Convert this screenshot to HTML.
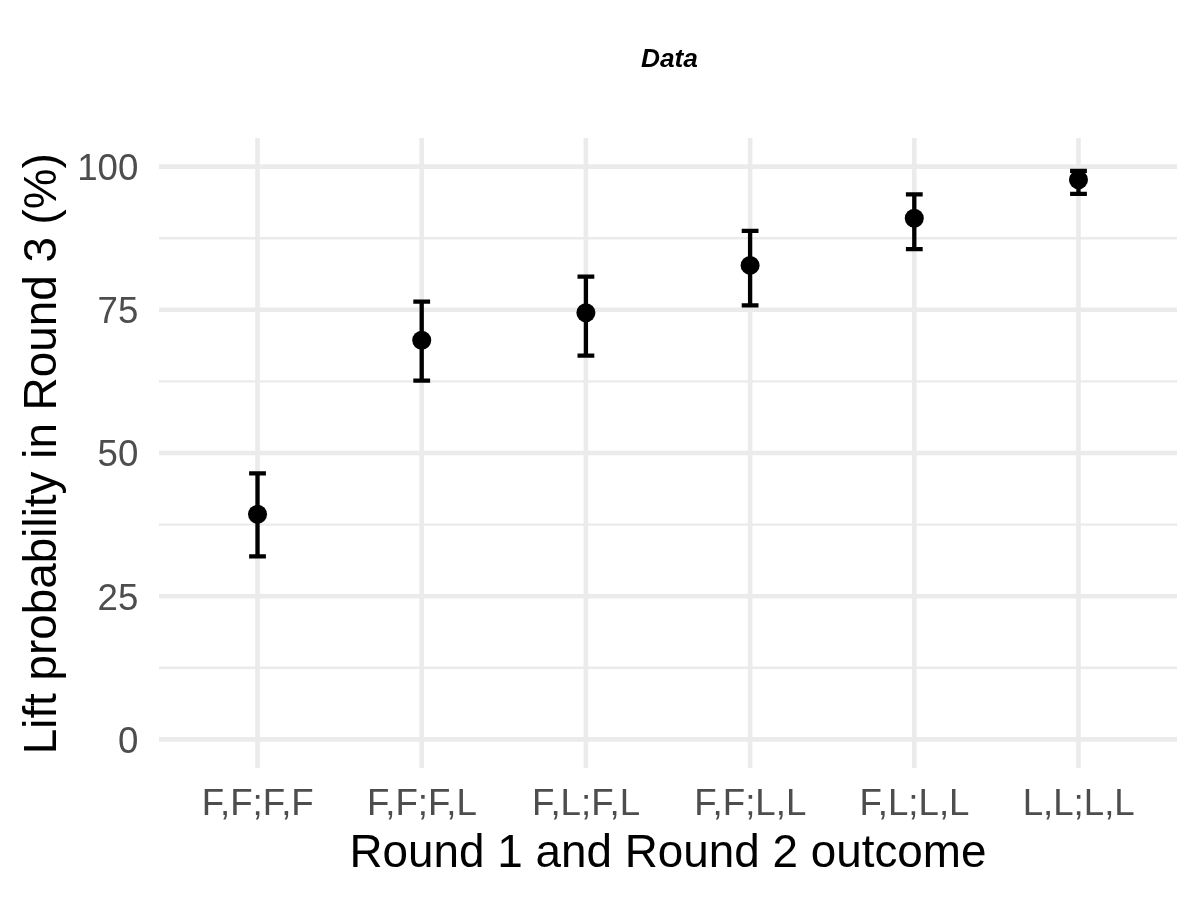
<!DOCTYPE html>
<html lang="en"><head><meta charset="utf-8"><title>Data</title>
<style>html,body{margin:0;padding:0;background:#fff;}body{width:1200px;height:900px;overflow:hidden;}svg{display:block;}text{font-family:"Liberation Sans",Arial,Helvetica,sans-serif;}</style>
</head><body>
<svg width="1200" height="900" viewBox="0 0 1200 900">
<rect x="0" y="0" width="1200" height="900" fill="#ffffff"/>
<g stroke="#EBEBEB" stroke-width="2.4" fill="none">
<line x1="159.0" x2="1177.0" y1="667.77" y2="667.77"/>
<line x1="159.0" x2="1177.0" y1="524.59" y2="524.59"/>
<line x1="159.0" x2="1177.0" y1="381.41" y2="381.41"/>
<line x1="159.0" x2="1177.0" y1="238.23" y2="238.23"/>
</g>
<g stroke="#EBEBEB" stroke-width="4.6" fill="none">
<line x1="159.0" x2="1177.0" y1="739.36" y2="739.36"/>
<line x1="159.0" x2="1177.0" y1="596.18" y2="596.18"/>
<line x1="159.0" x2="1177.0" y1="453.00" y2="453.00"/>
<line x1="159.0" x2="1177.0" y1="309.82" y2="309.82"/>
<line x1="159.0" x2="1177.0" y1="166.64" y2="166.64"/>
<line x1="257.52" x2="257.52" y1="138.0" y2="768.0"/>
<line x1="421.71" x2="421.71" y1="138.0" y2="768.0"/>
<line x1="585.90" x2="585.90" y1="138.0" y2="768.0"/>
<line x1="750.10" x2="750.10" y1="138.0" y2="768.0"/>
<line x1="914.29" x2="914.29" y1="138.0" y2="768.0"/>
<line x1="1078.48" x2="1078.48" y1="138.0" y2="768.0"/>
</g>
<g stroke="#000" stroke-width="4.3" fill="none" stroke-linecap="butt">
<path d="M249.12 473.30H265.92M257.52 473.30V556.30M249.12 556.30H265.92"/>
<path d="M413.31 301.70H430.11M421.71 301.70V380.60M413.31 380.60H430.11"/>
<path d="M577.50 276.70H594.30M585.90 276.70V355.70M577.50 355.70H594.30"/>
<path d="M741.70 230.90H758.50M750.10 230.90V305.30M741.70 305.30H758.50"/>
<path d="M905.89 194.30H922.69M914.29 194.30V249.10M905.89 249.10H922.69"/>
<path d="M1070.08 170.80H1086.88M1078.48 170.80V193.90M1070.08 193.90H1086.88"/>
</g>
<g fill="#000">
<circle cx="257.52" cy="514.30" r="9.5"/>
<circle cx="421.71" cy="340.30" r="9.5"/>
<circle cx="585.90" cy="312.70" r="9.5"/>
<circle cx="750.10" cy="265.40" r="9.5"/>
<circle cx="914.29" cy="218.30" r="9.5"/>
<circle cx="1078.48" cy="179.80" r="9.5"/>
</g>
<g fill="#4D4D4D" font-size="36.67" text-anchor="end">
<text x="138.3" y="752.76">0</text>
<text x="138.3" y="609.58">25</text>
<text x="138.3" y="466.40">50</text>
<text x="138.3" y="323.22">75</text>
<text x="138.3" y="180.04">100</text>
</g>
<g fill="#4D4D4D" font-size="36.67" text-anchor="middle">
<text x="257.72" y="814.9">F,F;F,F</text>
<text x="421.91" y="814.9">F,F;F,L</text>
<text x="586.10" y="814.9">F,L;F,L</text>
<text x="750.30" y="814.9">F,F;L,L</text>
<text x="914.49" y="814.9">F,L;L,L</text>
<text x="1078.68" y="814.9">L,L;L,L</text>
</g>
<text x="668.0" y="867.1" font-size="45.83" text-anchor="middle" fill="#000">Round 1 and Round 2 outcome</text>
<text transform="translate(56 453.7) rotate(-90)" font-size="45.83" text-anchor="middle" fill="#000">Lift probability in Round 3 (%)</text>
<text x="669.5" y="66.8" font-size="26.3" font-weight="bold" font-style="italic" text-anchor="middle" fill="#000">Data</text>
</svg></body></html>
